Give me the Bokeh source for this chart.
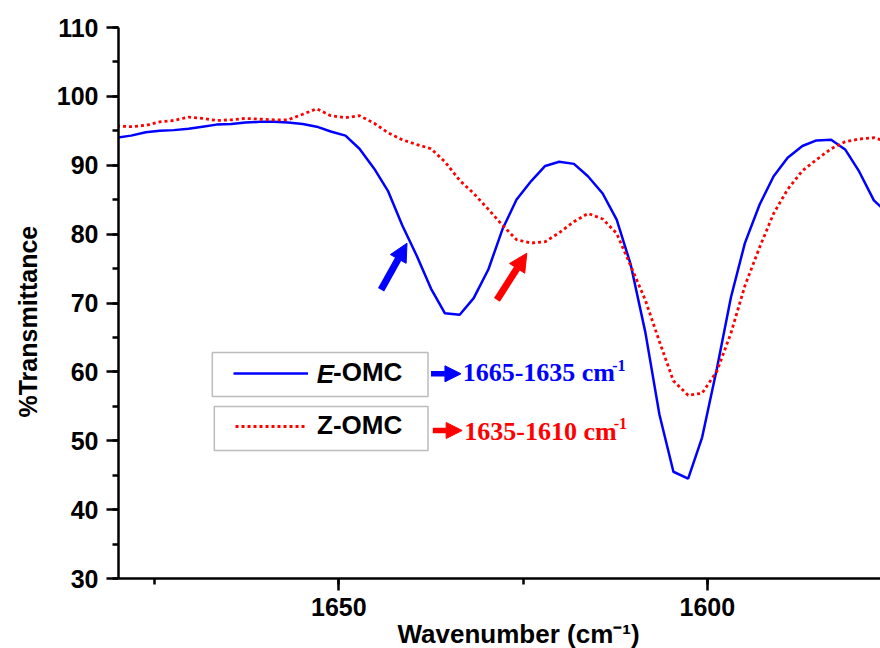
from bokeh.plotting import figure
from bokeh.models import (Range1d, SingleIntervalTicker, Label, Arrow, NormalHead,
                          Legend, LegendItem, BoxAnnotation, Title)
from bokeh.embed import file_html
from bokeh.resources import INLINE

# FTIR spectra of octyl methoxycinnamate isomers, C=C stretch region
wavenumber = [1680.1, 1678.2, 1676.2, 1674.3, 1672.4, 1670.4, 1668.5, 1666.6, 1664.6, 1662.7,
              1660.7, 1658.8, 1656.9, 1654.9, 1653.0, 1651.1, 1649.1, 1647.2, 1645.2, 1643.3,
              1641.4, 1639.4, 1637.5, 1635.6, 1633.6, 1631.7, 1629.7, 1627.8, 1625.9, 1623.9,
              1622.0, 1620.1, 1618.1, 1616.2, 1614.2, 1612.3, 1610.4, 1608.4, 1606.5, 1604.6,
              1602.6, 1600.7, 1598.7, 1596.8, 1594.9, 1592.9, 1591.0, 1589.1, 1587.1, 1585.2,
              1583.2, 1581.3, 1579.4, 1577.4, 1575.5]

e_omc = [94.0, 94.3, 94.8, 95.0, 95.1, 95.3, 95.6, 95.9, 96.0, 96.2,
         96.3, 96.3, 96.2, 96.0, 95.6, 94.9, 94.3, 92.4, 89.5, 86.2,
         81.3, 76.8, 72.1, 68.5, 68.3, 70.7, 74.9, 80.7, 85.0, 87.7,
         89.9, 90.5, 90.2, 88.4, 85.9, 82.1, 75.6, 65.7, 53.8, 45.5,
         44.5, 50.5, 60.5, 70.8, 78.7, 84.3, 88.4, 91.1, 92.8, 93.6,
         93.7, 92.3, 89.1, 84.9, 83.0]

z_omc = [95.7, 95.6, 95.8, 96.3, 96.5, 97.0, 96.8, 96.5, 96.6, 96.8,
         96.7, 96.6, 96.6, 97.4, 98.2, 97.2, 96.9, 97.2, 96.1, 94.7,
         93.7, 93.0, 92.4, 90.5, 87.8, 85.9, 83.6, 81.3, 79.2, 78.7,
         78.9, 80.2, 81.8, 83.0, 82.2, 80.1, 75.4, 70.4, 64.4, 58.7,
         56.6, 56.9, 60.1, 65.6, 72.5, 78.1, 83.0, 86.5, 89.2, 90.8,
         92.4, 93.4, 93.8, 94.0, 93.4]

series_names = ["E-OMC", "Z-OMC"]
band_ranges = ["1665-1635 cm", "1635-1610 cm"]

SANS = "Liberation Sans"
SERIF = "Liberation Serif"
BLUE = "#0000FF"
RED = "#FF0000"

p = figure(width=880, height=648, output_backend="svg", toolbar_location=None,
           x_range=Range1d(1679.9, 1576.5), y_range=Range1d(30, 110),
           min_border_left=117, min_border_right=0, min_border_top=27, min_border_bottom=70)
p.outline_line_color = None
p.xgrid.visible = False
p.ygrid.visible = False
p.background_fill_color = "white"
p.border_fill_color = "white"

e_line = p.line(wavenumber, e_omc, line_color=BLUE, line_width=2.5)
z_line = p.line(wavenumber, z_omc, line_color=RED, line_width=2.8, line_dash="3 3")

# axes
for ax in (p.xaxis[0], p.yaxis[0]):
    ax.axis_line_width = 2.5
    ax.major_tick_line_width = 2.5
    ax.minor_tick_line_width = 2.5
    ax.major_tick_out = 12
    ax.major_tick_in = 0
    ax.minor_tick_out = 6
    ax.minor_tick_in = 0
    ax.major_label_text_font = SANS
    ax.major_label_text_font_style = "bold"
    ax.major_label_text_font_size = "25px"
    ax.major_label_text_color = "black"

p.xaxis.ticker = SingleIntervalTicker(interval=50, num_minor_ticks=2)
p.yaxis.ticker = SingleIntervalTicker(interval=10, num_minor_ticks=2)
p.xaxis.major_label_standoff = 7
p.yaxis.major_label_standoff = 8

# axis titles
p.add_layout(Title(text="%Transmittance", align="left", offset=161, standoff=23,
                   text_font=SANS, text_font_style="bold", text_font_size="25px",
                   text_color="black"), "left")
p.add_layout(Title(text="Wavenumber (cm\u207b\u00b9)", align="left", offset=279, standoff=-4,
                   text_font=SANS, text_font_style="bold", text_font_size="26px",
                   text_color="black"), "below")

# legend frames
p.add_layout(BoxAnnotation(left=1667.17, right=1637.90, top=62.81, bottom=56.42,
                           fill_color="white", fill_alpha=1.0,
                           line_color="#222222", line_width=1.5))
p.add_layout(BoxAnnotation(left=1666.90, right=1637.90, top=54.97, bottom=48.58,
                           fill_color="white", fill_alpha=1.0,
                           line_color="#222222", line_width=1.5))

leg_e = Legend(items=[LegendItem(label="-OMC", renderers=[e_line])],
               location=(115, 190), padding=0, spacing=0, margin=0,
               glyph_width=75, glyph_height=30, label_height=30, label_standoff=25,
               border_line_color=None, background_fill_alpha=0,
               label_text_font=SANS, label_text_font_style="bold",
               label_text_font_size="26px", label_text_color="black")
leg_z = Legend(items=[LegendItem(label=series_names[1], renderers=[z_line])],
               location=(117, 137), padding=0, spacing=0, margin=0,
               glyph_width=72, glyph_height=30, label_height=30, label_standoff=10,
               border_line_color=None, background_fill_alpha=0,
               label_text_font=SANS, label_text_font_style="bold",
               label_text_font_size="26px", label_text_color="black")
p.add_layout(leg_e)
p.add_layout(leg_z)

p.add_layout(Label(x=1653.0, y=59.72, text="E",
                   text_font=SANS, text_font_style="bold italic", text_font_size="26px",
                   text_align="left", text_baseline="middle", text_color="black"))

# band assignments next to legend
for (x0, x1, y, color, txt, ty, sy, tx, sx) in [
        (1637.49, 1633.43, 59.72, BLUE, band_ranges[0], 59.85, 60.9, 1633.20, 1612.9),
        (1637.25, 1633.27, 51.49, RED, band_ranges[1], 51.37, 52.55, 1632.98, 1612.7)]:
    p.add_layout(Arrow(x_start=x0, y_start=y, x_end=x1, y_end=y,
                       line_color=color, line_width=5.5,
                       end=NormalHead(size=16, fill_color=color, line_color=color, line_width=1)))
    p.add_layout(Label(x=tx, y=ty, text=txt, text_font=SERIF, text_font_style="bold",
                       text_font_size="26px", text_color=color,
                       text_align="left", text_baseline="middle"))
    p.add_layout(Label(x=sx, y=sy, text="-1", text_font=SERIF, text_font_style="bold",
                       text_font_size="16px", text_color=color,
                       text_align="left", text_baseline="middle"))

# arrows pointing at the C=C bands
p.add_layout(Arrow(x_start=1644.27, y_start=71.92, x_end=1640.75, y_end=78.68,
                   line_color=BLUE, line_width=7,
                   end=NormalHead(size=18, fill_color=BLUE, line_color=BLUE, line_width=1)))
p.add_layout(Arrow(x_start=1628.55, y_start=70.46, x_end=1624.49, y_end=77.23,
                   line_color=RED, line_width=7,
                   end=NormalHead(size=18, fill_color=RED, line_color=RED, line_width=1)))

open("out.html", "w").write(file_html(p, INLINE))
